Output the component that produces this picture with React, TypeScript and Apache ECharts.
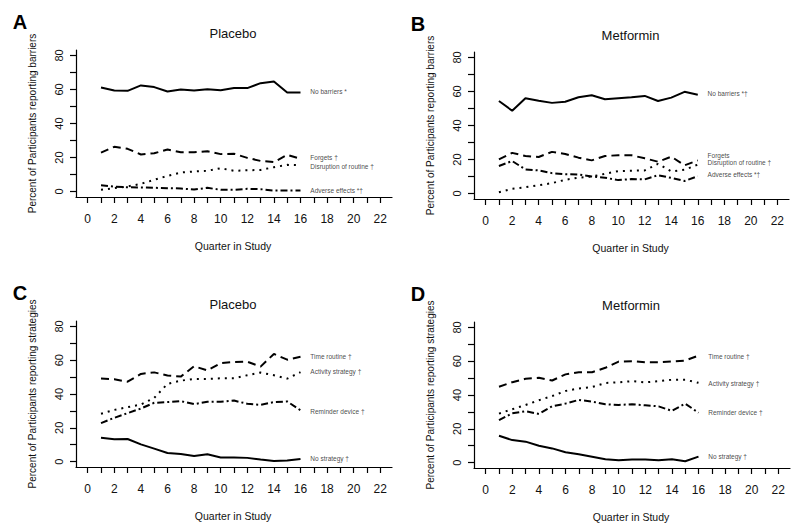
import React, { useEffect, useRef } from "react";
import * as echarts from "echarts";

const FONT = '"Liberation Sans", Arial, Helvetica, sans-serif';

// ---- Data ----
const quarters = [1, 2, 3, 4, 5, 6, 7, 8, 9, 10, 11, 12, 13, 14, 15, 16];
const xLabelValues = [0, 2, 4, 6, 8, 10, 12, 14, 16, 18, 20, 22];
const yLabelValues = [0, 20, 40, 60, 80];

// Panel A – Placebo barriers
const aNoBarriers = [61.2, 59.4, 59.2, 62.4, 61.4, 58.8, 60, 59.4, 60.2, 59.6, 60.8, 60.8, 63.7, 64.7, 58.2, 58.2];
const aForgets = [22.9, 26.3, 25.1, 21.8, 22.5, 24.7, 23.1, 23.1, 23.7, 22, 22.2, 19.8, 18, 17.3, 21.6, 19.3];
const aDisruption = [1, 2, 3, 4.5, 6.9, 9.2, 11.2, 11.8, 12.2, 13.7, 12.2, 12.5, 12.7, 14.3, 15.7, 15.5];
const aAdverse = [3.7, 2.9, 2.5, 2.4, 2.2, 2, 1.8, 1.2, 2.2, 1, 1, 1.6, 1.4, 0.6, 0.6, 0.6];

// Panel B – Metformin barriers
const bNoBarriers = [54.4, 48.7, 56, 54.6, 53.3, 54, 56.6, 57.8, 55.4, 56, 56.6, 57.4, 54.4, 56.4, 59.8, 58.1];
const bForgets = [20.1, 23.9, 22.1, 21.5, 24.5, 23.3, 21.1, 19.5, 22.1, 22.5, 22.5, 20.7, 18.7, 21.7, 16.6, 19.5];
const bDisruption = [0.8, 2.8, 3.7, 4.9, 6.1, 8.1, 9.3, 10, 11.6, 13.2, 13.4, 13.6, 17.5, 13, 14, 17];
const bAdverse = [16.2, 19.1, 14.2, 13.6, 12, 11.4, 11.2, 10, 9.3, 7.9, 8.5, 8.3, 10.8, 9.2, 7.4, 10.2];

// Panel C – Placebo strategies
const cTimeRoutine = [49.1, 48.7, 47.3, 51.9, 52.8, 50.9, 50.3, 56.4, 54, 58.3, 58.9, 59.1, 56.2, 63.7, 60.3, 62];
const cActivity = [28.3, 30.6, 32.2, 33.8, 37.7, 46, 47.9, 48.9, 48.9, 49.3, 49.3, 51.1, 52.7, 51.1, 49.1, 52.9];
const cReminder = [22.8, 25.9, 28.7, 31.4, 34.8, 35.2, 35.8, 34, 35.4, 35.4, 36.1, 34.2, 33.6, 35.2, 35.6, 30.4];
const cNoStrategy = [14.1, 13.2, 13.4, 10.2, 7.7, 5.1, 4.5, 3.3, 4.3, 2.4, 2.4, 2.2, 1.2, 0.4, 0.6, 1.6];

// Panel D – Metformin strategies
const dTimeRoutine = [44.9, 47.6, 49.6, 50.2, 48.6, 52.2, 53.5, 53.5, 56.1, 59.8, 60, 59.4, 59.4, 59.8, 60.4, 63.3];
const dActivity = [29, 31.6, 34.1, 36.9, 39.4, 42.4, 43.9, 44.7, 47.1, 47.5, 48.2, 47.5, 48.2, 49, 49, 47.2];
const dReminder = [25.1, 29.2, 30.4, 28.8, 33.3, 34.9, 37.1, 36.1, 34.5, 34.1, 34.5, 33.9, 33.3, 30.6, 34.9, 29.5];
const dNoStrategy = [15.9, 13.3, 12.4, 10, 8.4, 6.1, 4.9, 3.5, 2, 1.4, 1.8, 1.8, 1.4, 2, 0.8, 3.5];

// Line-end labels
const labelX = 16.7;
const aLabels = ["No barriers *", "Forgets \u2020", "Disruption of routine \u2020", "Adverse effects *\u2020"];
const aLabelY = [58.7, 19.8, 14.8, 0.4];
const bLabels = ["No barriers *\u2020", "Forgets", "Disruption of routine \u2020", "Adverse effects *\u2020"];
const bLabelY = [58.7, 22.3, 18.4, 11.4];
const cLabels = ["Time routine \u2020", "Activity strategy \u2020", "Reminder device \u2020", "No strategy \u2020"];
const cLabelY = [62, 53.5, 29.6, 2];
const dLabels = ["Time routine \u2020", "Activity strategy \u2020", "Reminder device \u2020", "No strategy \u2020"];
const dLabelY = [62.9, 46.8, 29.5, 3.5];

const panelLetters = ["A", "B", "C", "D"];
const panelTitles = ["Placebo", "Metformin", "Placebo", "Metformin"];
const yTitles = [
  "Percent of Participants reporting barriers",
  "Percent of Participants reporting barriers",
  "Percent of Participants reporting strategies",
  "Percent of Participants reporting strategies",
];
const xTitle = "Quarter in Study";

// ---- Styles / layout ----
const X_MIN = 0, X_MAX = 22, Y_MIN = 0, Y_MAX = 80;
const X_PAD = 0.88, Y_PAD = 3.2; // R-style 4% axis expansion

const STYLE_SOLID = { type: "solid", width: 2 };
const STYLE_DASHED = { type: [8, 5], width: 2 };
const STYLE_DOTTED = { type: [2, 5], width: 2 };
const STYLE_DASHDOT = { type: [7, 3, 2, 3], width: 2 };

const AXIS_W = 1.2;

// outer plot regions (L-shaped box)
const outerGrids = [
  { left: 76, top: 50, width: 316, height: 147 },
  { left: 474, top: 52, width: 315, height: 147 },
  { left: 76, top: 321, width: 316, height: 146 },
  { left: 474, top: 322, width: 316, height: 146 },
];

const panels = [
  { series: [aNoBarriers, aForgets, aDisruption, aAdverse], styles: [STYLE_SOLID, STYLE_DASHED, STYLE_DOTTED, STYLE_DASHDOT], labels: aLabels, labelY: aLabelY },
  { series: [bNoBarriers, bForgets, bDisruption, bAdverse], styles: [STYLE_SOLID, STYLE_DASHED, STYLE_DOTTED, STYLE_DASHDOT], labels: bLabels, labelY: bLabelY },
  { series: [cTimeRoutine, cActivity, cReminder, cNoStrategy], styles: [STYLE_DASHED, STYLE_DOTTED, STYLE_DASHDOT, STYLE_SOLID], labels: cLabels, labelY: cLabelY },
  { series: [dTimeRoutine, dActivity, dReminder, dNoStrategy], styles: [STYLE_DASHED, STYLE_DOTTED, STYLE_DASHDOT, STYLE_SOLID], labels: dLabels, labelY: dLabelY },
];

function buildOption() {
  const grid: any[] = [];
  const xAxes: any[] = [];
  const yAxes: any[] = [];
  const series: any[] = [];
  const graphic: any[] = [];

  outerGrids.forEach((g, i) => {
    const sx = g.width / (X_MAX - X_MIN + 2 * X_PAD);
    const sy = g.height / (Y_MAX - Y_MIN + 2 * Y_PAD);
    const offX = X_PAD * sx;
    const offY = Y_PAD * sy;
    const inner = { left: g.left + offX, top: g.top + offY, width: (X_MAX - X_MIN) * sx, height: (Y_MAX - Y_MIN) * sy };

    // outer grid: only the L-shaped axis lines
    const outerIdx = grid.length;
    grid.push({ ...g });
    xAxes.push({
      type: "value", gridIndex: outerIdx, min: X_MIN - X_PAD, max: X_MAX + X_PAD,
      axisLine: { show: true, onZero: false, lineStyle: { color: "#000", width: AXIS_W } },
      axisTick: { show: false }, axisLabel: { show: false }, splitLine: { show: false },
    });
    yAxes.push({
      type: "value", gridIndex: outerIdx, min: Y_MIN - Y_PAD, max: Y_MAX + Y_PAD,
      axisLine: { show: true, onZero: false, lineStyle: { color: "#000", width: AXIS_W } },
      axisTick: { show: false }, axisLabel: { show: false }, splitLine: { show: false },
    });

    // inner grid: data, ticks and labels
    const innerIdx = grid.length;
    grid.push(inner);
    xAxes.push({
      type: "value", gridIndex: innerIdx, min: X_MIN, max: X_MAX, interval: 1, offset: offY,
      axisLine: { show: false, onZero: false },
      axisTick: { show: true, length: 6, lineStyle: { color: "#000", width: AXIS_W } },
      axisLabel: {
        margin: 16, fontSize: 12, color: "#111", fontFamily: FONT,
        formatter: (v: number) => (xLabelValues.indexOf(v) >= 0 ? String(v) : ""),
      },
      splitLine: { show: false },
    });
    yAxes.push({
      type: "value", gridIndex: innerIdx, min: Y_MIN, max: Y_MAX, interval: 10, offset: offX,
      axisLine: { show: false, onZero: false },
      axisTick: { show: true, length: 6, lineStyle: { color: "#000", width: AXIS_W } },
      axisLabel: {
        margin: 12, fontSize: 11, color: "#111", fontFamily: FONT, rotate: 90,
        formatter: (v: number) => (yLabelValues.indexOf(v) >= 0 ? String(v) : ""),
      },
      splitLine: { show: false },
    });

    const p = panels[i];
    p.series.forEach((vals, k) => {
      series.push({
        type: "line", xAxisIndex: innerIdx, yAxisIndex: innerIdx,
        data: quarters.map((q, j) => [q, vals[j]]),
        showSymbol: false, symbol: "none",
        lineStyle: { color: "#000", ...p.styles[k] },
        silent: true, z: 3,
      });
    });
    series.push({
      type: "scatter", xAxisIndex: innerIdx, yAxisIndex: innerIdx,
      symbolSize: 1, itemStyle: { color: "rgba(0,0,0,0)" }, silent: true,
      data: p.labels.map((t, k) => ({ value: [labelX, p.labelY[k]], name: t })),
      label: {
        show: true, position: "right", distance: 0,
        formatter: (d: any) => d.name,
        fontSize: 6.5, color: "#111", fontFamily: FONT,
      },
    });

    const cx = g.left + g.width / 2;
    const cy = g.top + g.height / 2;
    graphic.push({
      type: "text", x: g.left - 56, y: g.top - 28,
      style: { text: panelLetters[i], fontSize: 20, fontWeight: "bold", fontFamily: FONT, fill: "#000", align: "center", verticalAlign: "middle" },
    });
    graphic.push({
      type: "text", x: cx - 1, y: g.top - 17,
      style: { text: panelTitles[i], fontSize: 13, fontFamily: FONT, fill: "#111", align: "center", verticalAlign: "middle" },
    });
    graphic.push({
      type: "text", x: g.left - 44, y: cy, rotation: Math.PI / 2,
      style: { text: yTitles[i], fontSize: 10, fontFamily: FONT, fill: "#111", align: "center", verticalAlign: "middle" },
    });
    graphic.push({
      type: "text", x: cx - 1, y: g.top + g.height + 49,
      style: { text: xTitle, fontSize: 10.5, fontFamily: FONT, fill: "#111", align: "center", verticalAlign: "middle" },
    });
  });

  return {
    animation: false,
    backgroundColor: "#fff",
    grid,
    xAxis: xAxes,
    yAxis: yAxes,
    series,
    graphic,
  };
}

export default function App() {
  const ref = useRef<HTMLDivElement>(null);
  useEffect(() => {
    if (!ref.current) return;
    const chart = echarts.init(ref.current, null, { renderer: "svg" });
    chart.setOption(buildOption() as any);
    return () => chart.dispose();
  }, []);
  return (
    <div
      ref={ref}
      style={{ position: "absolute", left: 0, top: 0, width: 800, height: 530, background: "#fff" }}
    />
  );
}
